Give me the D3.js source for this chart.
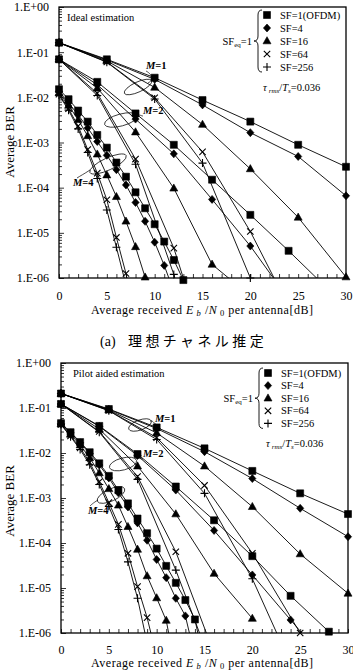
<!DOCTYPE html>
<html><head><meta charset="utf-8">
<script src="https://cdn.jsdelivr.net/npm/d3@7"></script>
<style>
body{margin:0;background:#fff}
svg text{font-family:"Liberation Serif","Times New Roman",serif;fill:#000}
</style>
</head><body><svg id="c" width="353" height="670" xmlns="http://www.w3.org/2000/svg"></svg>
<script>
// ---------- data ----------
const xTicks = [0, 5, 10, 15, 20, 25, 30];
const yTickValues = [1, 1e-1, 1e-2, 1e-3, 1e-4, 1e-5, 1e-6];
const yTickLabels = ["1.E+00", "1.E-01", "1.E-02", "1.E-03", "1.E-04", "1.E-05", "1.E-06"];
const sfNames = ["SF=1(OFDM)", "SF=4", "SF=16", "SF=64", "SF=256"];

const xM1 = [0, 5, 10, 15, 20, 25, 30];
const xM2 = [0, 4, 8, 12, 16, 20, 24, 28];
const xM4 = [0, 1, 2, 3, 4, 5, 6, 7, 8, 9, 10, 11, 12, 13, 14, 15];

// (a) ideal estimation, rows: SF=1, 4, 16, 64, 256
const idealM1 = [
  [0.162, 0.0695, 0.0272, 0.0087, 0.0029, 8.9e-4, 2.9e-4],
  [0.162, 0.067, 0.025, 0.0068, 0.00165, 4.9e-4, 6.6e-5],
  [0.162, 0.064, 0.0166, 0.0025, 2.6e-4, 2.2e-5, 1.05e-6],
  [0.162, 0.061, 0.0098, 6.2e-4, 1.07e-5, 9e-8],
  [0.162, 0.060, 0.0092, 3.5e-4, 1.0e-6]
];
const idealM2 = [
  [0.0695, 0.022, 0.0044, 8.9e-4, 1.5e-4, 2.5e-5, 4e-6, 6e-7],
  [0.0695, 0.019, 0.0033, 5.6e-4, 5.5e-5, 5.1e-6, 3.4e-7],
  [0.0695, 0.016, 0.0017, 9.7e-5, 2e-6, 4e-7],
  [0.0695, 0.0123, 4.3e-4, 4.6e-6, 1e-8],
  [0.0695, 0.011, 3.3e-4, 1.2e-6, 1e-9]
];
const idealM4 = [
  [0.0151, 0.0091, 0.0051, 0.0029, 0.00147, 7.7e-4, 3.6e-4, 1.75e-4, 7.9e-5, 3.5e-5, 1.55e-5, 6.4e-6, 2.5e-6, 9e-7],
  [0.0135, 0.0075, 0.0041, 0.0021, 0.00105, 5.2e-4, 2.5e-4, 1.15e-4, 4.7e-5, 1.8e-5, 6.2e-6, 1.9e-6, 5e-7],
  [0.0125, 0.0066, 0.0032, 0.0014, 5.5e-4, 1.9e-4, 6.3e-5, 1.8e-5, 4.9e-6, 1.04e-6],
  [0.0118, 0.0056, 0.0023, 7e-4, 2.1e-4, 5.4e-5, 7.9e-6, 1.26e-6, 1e-7],
  [0.0112, 0.0052, 0.0020, 6e-4, 1.6e-4, 3.2e-5, 4.8e-6, 7e-7]
];

// (b) pilot aided estimation
const pilotM1 = [
  [0.21, 0.095, 0.037, 0.0127, 0.004, 0.00127, 4.4e-4],
  [0.21, 0.093, 0.035, 0.0107, 0.0027, 5.9e-4, 1.38e-4],
  [0.21, 0.090, 0.028, 0.0051, 6.4e-4, 5.7e-5, 7.6e-6],
  [0.21, 0.088, 0.022, 0.0019, 5.9e-5, 1.0e-6],
  [0.21, 0.087, 0.020, 0.00127, 1.6e-5, 7e-8]
];
const pilotM2 = [
  [0.123, 0.040, 0.0095, 0.0018, 3.2e-4, 5.1e-5, 6.7e-6, 1.07e-6],
  [0.123, 0.039, 0.0088, 0.0015, 1.9e-4, 1.95e-5, 1.95e-6, 2e-7],
  [0.123, 0.034, 0.0051, 4.4e-4, 2.1e-5, 2.1e-6],
  [0.123, 0.030, 0.0030, 6.4e-5, 3.5e-7],
  [0.123, 0.029, 0.0026, 2.5e-5, 1.4e-7]
];
const pilotM4 = [
  [0.046, 0.029, 0.0175, 0.0104, 0.0059, 0.0031, 0.0015, 7.6e-4, 3.5e-4, 1.65e-4, 7.5e-5, 3.1e-5, 1.3e-5, 5.4e-6, 2e-6, 2e-7],
  [0.045, 0.028, 0.0168, 0.0098, 0.0054, 0.0028, 0.0013, 6.3e-4, 2.8e-4, 1.15e-4, 4.3e-5, 1.7e-5, 5.9e-6, 2.4e-6, 3e-7],
  [0.044, 0.026, 0.015, 0.0078, 0.0036, 0.0016, 6.9e-4, 2.3e-4, 7.2e-5, 1.85e-5, 6e-6, 1.9e-6, 1.5e-7],
  [0.043, 0.024, 0.013, 0.0062, 0.0023, 7.9e-4, 2.6e-4, 5.9e-5, 1.07e-5, 2.2e-6, 3e-7],
  [0.043, 0.023, 0.012, 0.0055, 0.0020, 6.5e-4, 2.0e-4, 3.8e-5, 5.9e-6, 6e-7]
];

// ---------- drawing ----------
const svg = d3.select("#c");
const markerPaths = [
  "M-3.5,-3.5h7v7h-7z",
  "M0,-4L3.6,0L0,4L-3.6,0Z",
  "M0,-4.3L4,2.8L-4,2.8Z",
  "M-3.2,-3.2L3.2,3.2M-3.2,3.2L3.2,-3.2",
  "M-4,0H4M0,-4V4"
];
function drawMarker(g, k, px, py) {
  const filled = k < 3;
  g.append("path").attr("d", markerPaths[k])
    .attr("transform", `translate(${px},${py})`)
    .attr("fill", filled ? "#000" : "none")
    .attr("stroke", "#000").attr("stroke-width", filled ? 0.6 : 1.1);
}

const panels = [
  { x0: 59, x1: 346, y0: 7, y1: 278, label: "Ideal estimation", lx: 67, ly: 21,
    groups: [[xM1, idealM1], [xM2, idealM2], [xM4, idealM4]],
    legX: 267, legY: 15, legDy: 13, tauX: 263, tauY: 91, yTitleY: 142, xTitleY: 314.2, tickPad: 13.8,
    mLabels: [
      {t: "1", x: 146, y: 69, ex: 138, ey: 87, rx: 15, ry: 5, rot: -25, lead: "M148,83 C156,79 150,73 146,71"},
      {t: "2", x: 143, y: 114, ex: 121, ey: 120, rx: 17, ry: 6, rot: -15, lead: "M136,116 C140,114 141,116 143,116"},
      {t: "4", x: 73, y: 186, ex: 108, ey: 164, rx: 20, ry: 6, rot: -25, lead: "M90,170 C84,174 80,176 77,178"}
    ] },
  { x0: 61, x1: 348, y0: 363, y1: 633, label: "Pilot aided estimation", lx: 73, ly: 377,
    groups: [[xM1, pilotM1], [xM2, pilotM2], [xM4, pilotM4]],
    legX: 268, legY: 373, legDy: 12.6, tauX: 266, tauY: 447, yTitleY: 501, xTitleY: 667.2, tickPad: 12.3,
    mLabels: [
      {t: "1", x: 155, y: 422, ex: 140, ey: 425, rx: 12, ry: 5, rot: -20, lead: "M150,421 C153,420 154,424 156,424"},
      {t: "2", x: 143, y: 457, ex: 123, ey: 464, rx: 14, ry: 6, rot: -15, lead: "M135,459 C138,457 140,459 143,459"},
      {t: "4", x: 88, y: 514, ex: 111, ey: 495, rx: 15, ry: 6, rot: -25, lead: "M98,500 C93,503 91,505 90,506"}
    ] }
];

panels.forEach((p, pi) => {
  const x = d3.scaleLinear([0, 30], [p.x0, p.x1]);
  const y = d3.scaleLog([1e-6, 1], [p.y1, p.y0]);
  const g = svg.append("g");
  const clipId = "clip" + pi;
  svg.append("clipPath").attr("id", clipId).append("rect")
    .attr("x", p.x0).attr("y", p.y0).attr("width", p.x1 - p.x0).attr("height", p.y1 - p.y0);

  // minor y ticks
  const minor = [];
  for (let e = -6; e < 0; e++) for (let m = 2; m <= 9; m++) minor.push(m * Math.pow(10, e));
  const ym = g.append("g").attr("transform", `translate(${p.x0},0)`)
    .call(d3.axisLeft(y).tickValues(minor).tickSize(-3).tickFormat(""));
  ym.select(".domain").remove();
  ym.selectAll(".tick text").remove();
  // major y ticks + labels
  const yM = g.append("g").attr("transform", `translate(${p.x0},0)`)
    .call(d3.axisLeft(y).tickValues(yTickValues).tickSize(-5).tickPadding(10)
      .tickFormat((d, i) => yTickLabels[i]));
  yM.select(".domain").remove();
  yM.selectAll("text").attr("font-size", 12).attr("font-family", "Liberation Serif");
  // x ticks (minor every 1 dB, labels every 5 dB)
  const xa = g.append("g").attr("transform", `translate(0,${p.y1})`)
    .call(d3.axisBottom(x).tickValues(d3.range(0, 31)).tickSize(-4).tickPadding(p.tickPad)
      .tickFormat(d => xTicks.includes(d) ? d : ""));
  xa.select(".domain").remove();
  xa.selectAll(".tick text").filter(d => !xTicks.includes(d)).remove();
  xa.selectAll("text").attr("font-size", 12).attr("font-family", "Liberation Serif");
  g.selectAll(".tick line").attr("stroke", "#000").attr("stroke-width", 0.8);

  // frame
  g.append("rect").attr("x", p.x0).attr("y", p.y0).attr("width", p.x1 - p.x0).attr("height", p.y1 - p.y0)
    .attr("fill", "none").attr("stroke", "#000").attr("stroke-width", 1.3);

  // series
  const line = d3.line().x(d => x(d[0])).y(d => y(d[1]));
  const lg = g.append("g").attr("clip-path", `url(#${clipId})`);
  const mg = g.append("g");
  p.groups.forEach(([xs, rows]) => {
    rows.forEach((vals, k) => {
      const pts = vals.map((v, i) => [xs[i], v]);
      lg.append("path").attr("d", line(pts)).attr("fill", "none")
        .attr("stroke", "#000").attr("stroke-width", 0.9);
      pts.filter(d => d[1] >= 9e-7).forEach(d => drawMarker(mg, k, x(d[0]), y(d[1])));
    });
  });

  // label box text
  g.append("text").attr("x", p.lx).attr("y", p.ly).attr("font-size", 10.5).text(p.label);

  // legend
  sfNames.forEach((n, k) => {
    const yy = p.legY + k * p.legDy;
    drawMarker(g, k, p.legX, yy);
    g.append("text").attr("x", p.legX + 13).attr("y", yy + 3.5).attr("font-size", 10.5).text(n);
  });
  const b0 = p.legY - 5, b1 = p.legY + 4 * p.legDy + 5, bm = (b0 + b1) / 2, bx = p.legX - 9;
  g.append("path").attr("fill", "none").attr("stroke", "#000").attr("stroke-width", 0.9)
    .attr("d", `M${bx + 4},${b0} Q${bx},${b0} ${bx},${b0 + 5} L${bx},${bm - 5} Q${bx},${bm} ${bx - 4},${bm} Q${bx},${bm} ${bx},${bm + 5} L${bx},${b1 - 5} Q${bx},${b1} ${bx + 4},${b1}`);
  const sfe = g.append("text").attr("x", bx - 6).attr("y", bm + 3.5).attr("font-size", 10.5).attr("text-anchor", "end");
  sfe.append("tspan").text("SF");
  sfe.append("tspan").attr("font-size", 7).attr("dy", 2).text("eq");
  sfe.append("tspan").attr("dy", -2).text("=1");
  const tau = g.append("text").attr("x", p.tauX).attr("y", p.tauY).attr("font-size", 10.5);
  tau.append("tspan").attr("font-style", "italic").text("τ");
  tau.append("tspan").attr("font-size", 7).attr("font-style", "italic").attr("dx", 2).attr("dy", 2).text("rms");
  tau.append("tspan").attr("dy", -2).text("/");
  tau.append("tspan").attr("font-style", "italic").text("T");
  tau.append("tspan").attr("font-size", 7).attr("font-style", "italic").attr("dy", 2).text("s");
  tau.append("tspan").attr("dy", -2).text("=0.036");

  // M labels with ellipses
  p.mLabels.forEach(m => {
    g.append("ellipse").attr("cx", m.ex).attr("cy", m.ey).attr("rx", m.rx).attr("ry", m.ry)
      .attr("transform", `rotate(${m.rot},${m.ex},${m.ey})`)
      .attr("fill", "none").attr("stroke", "#000").attr("stroke-width", 0.7);
    g.append("path").attr("d", m.lead).attr("fill", "none").attr("stroke", "#000").attr("stroke-width", 0.7);
    const t = g.append("text").attr("x", m.x).attr("y", m.y).attr("font-size", 10.5).attr("font-weight", "bold");
    t.append("tspan").attr("font-style", "italic").text("M");
    t.append("tspan").text("=" + m.t);
  });

  // axis titles
  const xt = g.append("text").attr("x", 91).attr("y", p.xTitleY).attr("font-size", 12)
    .attr("textLength", 222).attr("lengthAdjust", "spacing");
  xt.append("tspan").text("Average received ");
  xt.append("tspan").attr("font-style", "italic").text("E");
  xt.append("tspan").attr("font-size", 8.5).attr("dy", 1.5).attr("font-style", "italic").text(" b");
  xt.append("tspan").attr("dy", -1.5).text(" /");
  xt.append("tspan").attr("font-style", "italic").text("N");
  xt.append("tspan").attr("font-size", 8.5).attr("dy", 1.5).text(" 0");
  xt.append("tspan").attr("dy", -1.5).text(" per antenna[dB]");
  g.append("text").attr("transform", `translate(14,${p.yTitleY}) rotate(-90)`)
    .attr("font-size", 13).attr("text-anchor", "middle").text("Average BER");
});

// caption (a)
svg.append("text").attr("x", 100).attr("y", 346).attr("font-size", 14).text("(a)");
svg.append("text").attr("x", 128).attr("y", 346).attr("font-size", 14)
  .style("font-family", "'Noto Sans CJK JP'")
  .attr("letter-spacing", 3.4).text("理想チャネル推定");
</script>
</body></html>
